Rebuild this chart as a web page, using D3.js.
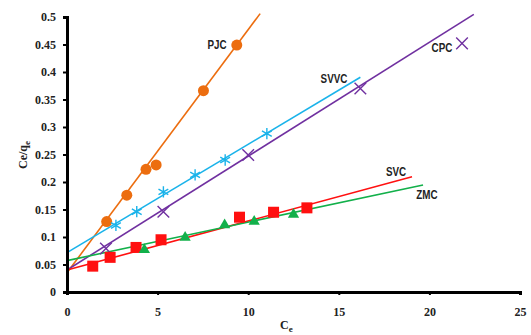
<!DOCTYPE html>
<html>
<head>
<meta charset="utf-8">
<script src="https://cdn.jsdelivr.net/npm/d3@7"></script>
<style>
  html, body { margin: 0; padding: 0; background: #fff; }
  svg { display: block; }
  .tick-label { font-family: "Liberation Serif", "Times New Roman", serif; font-weight: bold; font-size: 12px; fill: #222; }
  .series-label { font-family: "Liberation Sans Narrow", "Arial Narrow", "Liberation Sans", sans-serif; font-weight: bold; font-size: 12px; fill: #222; }
</style>
</head>
<body>
<svg id="chart" width="531" height="335"></svg>
<script>
// Sorption isotherm linearisation: Ce/qe against Ce for five adsorbents
const xTicks = [0, 5, 10, 15, 20, 25];
const yTicks = [0, 0.05, 0.1, 0.15, 0.2, 0.25, 0.3, 0.35, 0.4, 0.45, 0.5];

const pjcX = [2.19, 3.30, 4.36, 4.92, 7.53, 9.37];
const pjcY = [0.128, 0.176, 0.223, 0.231, 0.366, 0.449];

const svvcX = [2.70, 3.85, 5.32, 7.07, 8.73, 11.03];
const svvcY = [0.121, 0.146, 0.182, 0.213, 0.240, 0.288];

const cpcX = [2.15, 5.32, 10.0, 16.19, 21.8];
const cpcY = [0.079, 0.146, 0.249, 0.370, 0.452];

const svcX = [1.42, 2.38, 3.81, 5.19, 9.52, 11.40, 13.24];
const svcY = [0.047, 0.063, 0.081, 0.095, 0.136, 0.145, 0.153];

const zmcX = [4.27, 6.52, 8.70, 10.33, 12.50];
const zmcY = [0.077, 0.099, 0.122, 0.128, 0.141];

// linear trend lines: [intercept, slope, last Ce]
const pjcFit  = [0.035, 0.0442, 10.66];
const svvcFit = [0.0715, 0.0197, 16.19];
const cpcFit  = [0.040, 0.0207, 22.45];
const svcFit  = [0.040, 0.0089, 19.04];
const zmcFit  = [0.057, 0.0070, 19.65];

const seriesNames = ["PJC", "SVVC", "CPC", "SVC", "ZMC"];

const svg = d3.select("#chart");
const x = d3.scaleLinear().domain([0, 25]).range([67, 520]);
const y = d3.scaleLinear().domain([0, 0.5]).range([292, 17]);

// trend lines
const fitLine = (fit, color) => {
  const [b, m, xEnd] = fit;
  svg.append("line")
    .attr("x1", x(0)).attr("y1", y(b))
    .attr("x2", x(xEnd)).attr("y2", y(b + m * xEnd))
    .attr("stroke", color).attr("stroke-width", 1.6);
};

const colors = { PJC: "#ec6d0f", SVVC: "#1ab3ea", CPC: "#7030a0", SVC: "#ff1010", ZMC: "#12b04a" };

fitLine(pjcFit, colors.PJC);
fitLine(svvcFit, colors.SVVC);
fitLine(cpcFit, colors.CPC);
fitLine(svcFit, colors.SVC);
fitLine(zmcFit, colors.ZMC);

// markers
const zip = (xs, ys) => xs.map((v, i) => [v, ys[i]]);

svg.append("g").selectAll("circle").data(zip(pjcX, pjcY)).join("circle")
  .attr("cx", d => x(d[0])).attr("cy", d => y(d[1])).attr("r", 5.5)
  .attr("fill", colors.PJC);

svg.append("g").selectAll("path").data(zip(svvcX, svvcY)).join("path")
  .attr("d", d3.symbol(d3.symbolAsterisk, 90))
  .attr("transform", d => `translate(${x(d[0])},${y(d[1])})`)
  .attr("fill", "none").attr("stroke", colors.SVVC).attr("stroke-width", 1.4);

svg.append("g").selectAll("path").data(zip(cpcX, cpcY)).join("path")
  .attr("d", d3.symbol(d3.symbolTimes, 90))
  .attr("transform", d => `translate(${x(d[0])},${y(d[1])})`)
  .attr("fill", "none").attr("stroke", colors.CPC).attr("stroke-width", 1.4);

svg.append("g").selectAll("rect").data(zip(svcX, svcY)).join("rect")
  .attr("x", d => x(d[0]) - 5.5).attr("y", d => y(d[1]) - 5.5)
  .attr("width", 11).attr("height", 11)
  .attr("fill", colors.SVC);

svg.append("g").selectAll("path").data(zip(zmcX, zmcY)).join("path")
  .attr("d", d3.symbol(d3.symbolTriangle, 55))
  .attr("transform", d => `translate(${x(d[0])},${y(d[1])})`)
  .attr("fill", colors.ZMC);

// series labels, set in a narrow face
const labelPos = { PJC: [217, 45], SVVC: [334, 79], CPC: [442, 48], SVC: [396, 172], ZMC: [427, 195] };
svg.append("g").selectAll("text").data(seriesNames).join("text")
  .attr("class", "series-label")
  .attr("transform", d => `translate(${labelPos[d][0]},${labelPos[d][1]}) scale(0.82,1)`)
  .attr("text-anchor", "middle").attr("dominant-baseline", "central")
  .text(d => d);

// axes
const xAxis = svg.append("g").attr("transform", `translate(0,${y(0)})`)
  .call(d3.axisBottom(x).tickValues(xTicks).tickSize(3).tickPadding(12).tickFormat(d3.format("d")));
const yAxis = svg.append("g").attr("transform", `translate(${x(0)},0)`)
  .call(d3.axisLeft(y).tickValues(yTicks).tickSize(4).tickPadding(7).tickFormat(d => d === 0 ? "0" : String(d)));

[xAxis, yAxis].forEach(g => {
  g.select(".domain").attr("stroke", "#000").attr("stroke-width", 3);
  g.selectAll(".tick line").attr("stroke", "#000").attr("stroke-width", 2);
  g.selectAll(".tick text").attr("class", "tick-label");
});

// axis titles
const xt = svg.append("text").attr("class", "tick-label")
  .attr("x", 280).attr("y", 329).attr("font-size", 14);
xt.append("tspan").text("C");
xt.append("tspan").attr("font-size", 9).attr("dy", 3).text("e");

const yt = svg.append("text").attr("class", "tick-label")
  .attr("transform", "translate(27,155) rotate(-90)")
  .attr("text-anchor", "middle").attr("font-size", 14);
yt.append("tspan").text("Ce/q");
yt.append("tspan").attr("font-size", 9).attr("dy", 3).text("e");
</script>
</body>
</html>
